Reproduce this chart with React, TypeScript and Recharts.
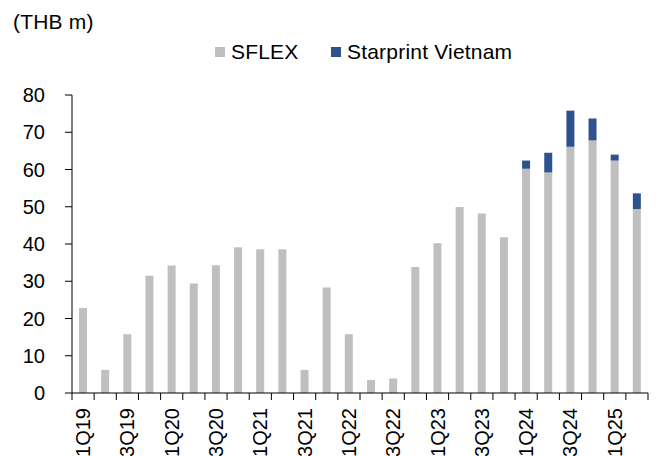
import { BarChart, Bar, XAxis, YAxis } from "recharts";

const quarters = [
  "1Q19", "2Q19", "3Q19", "4Q19",
  "1Q20", "2Q20", "3Q20", "4Q20",
  "1Q21", "2Q21", "3Q21", "4Q21",
  "1Q22", "2Q22", "3Q22", "4Q22",
  "1Q23", "2Q23", "3Q23", "4Q23",
  "1Q24", "2Q24", "3Q24", "4Q24",
  "1Q25", "2Q25",
];

const sflex = [
  22.8, 6.2, 15.8, 31.5,
  34.2, 29.4, 34.3, 39.1,
  38.6, 38.6, 6.2, 28.3,
  15.8, 3.5, 3.9, 33.8,
  40.2, 49.9, 48.2, 41.8,
  60.2, 59.2, 66.1, 67.8,
  62.4, 49.4,
];

const starprint = [
  0, 0, 0, 0,
  0, 0, 0, 0,
  0, 0, 0, 0,
  0, 0, 0, 0,
  0, 0, 0, -0.3,
  2.2, 5.3, 9.7, 5.9,
  1.6, 4.2,
];

const yTicks = [0, 10, 20, 30, 40, 50, 60, 70, 80];

const data = quarters.map((q, i) => ({ q, sflex: sflex[i], starprint: starprint[i] }));

const GREY = "#BFBFBF";
const NAVY = "#2F528F";
const FONT = "Arial, 'Liberation Sans', sans-serif";

// plot area is 72..648 wide, so one category band is this wide
const BAND = 576 / quarters.length;

function QuarterTick(props: any) {
  const { x, y, index, payload } = props;
  const left = x - BAND / 2;
  return (
    <g>
      <line x1={left} x2={left} y1={y} y2={y + 7} stroke="#000" />
      {index === quarters.length - 1 && (
        <line x1={x + BAND / 2} x2={x + BAND / 2} y1={y} y2={y + 7} stroke="#000" />
      )}
      {index % 2 === 0 && (
        <text
          transform={`translate(${x},${y + 15}) rotate(-90)`}
          textAnchor="end"
          dominantBaseline="central"
          fontSize={20}
          fontFamily={FONT}
          fill="#000"
        >
          {payload.value}
        </text>
      )}
    </g>
  );
}

function LegendItem({ color, label, left }: { color: string; label: string; left: number }) {
  return (
    <div style={{ position: "absolute", left, top: 40, display: "flex", alignItems: "center" }}>
      <span style={{ width: 10, height: 10, background: color, display: "inline-block", marginRight: 6 }} />
      <span>{label}</span>
    </div>
  );
}

export default function App() {
  return (
    <div
      style={{
        position: "absolute",
        left: 0,
        top: 0,
        width: 659,
        height: 456,
        background: "#fff",
        overflow: "hidden",
        fontFamily: FONT,
        fontSize: 21,
        letterSpacing: 0.2,
        color: "#000",
      }}
    >
      <div style={{ position: "absolute", left: 13, top: 10, whiteSpace: "pre" }}>(THB m)</div>
      <LegendItem color={GREY} label="SFLEX" left={215} />
      <LegendItem color={NAVY} label="Starprint Vietnam" left={331} />
      <BarChart
        width={659}
        height={456}
        data={data}
        margin={{ top: 95, right: 11, left: 0, bottom: 0 }}
        stackOffset="sign"
        style={{ letterSpacing: 0 }}
      >
        <XAxis
          dataKey="q"
          height={63}
          interval={0}
          tickSize={0}
          tickMargin={0}
          tickLine={false}
          axisLine={{ stroke: "#000" }}
          tick={<QuarterTick />}
        />
        <YAxis
          width={72}
          domain={[0, 80]}
          ticks={yTicks}
          interval={0}
          tickSize={7}
          tickMargin={20}
          axisLine={{ stroke: "#000" }}
          tickLine={{ stroke: "#000" }}
          tick={{ fill: "#000", fontSize: 20, fontFamily: FONT }}
          allowDataOverflow
        />
        <Bar dataKey="sflex" stackId="a" fill={GREY} barSize={8} isAnimationActive={false} />
        <Bar dataKey="starprint" stackId="a" fill={NAVY} barSize={8} isAnimationActive={false} />
      </BarChart>
    </div>
  );
}
